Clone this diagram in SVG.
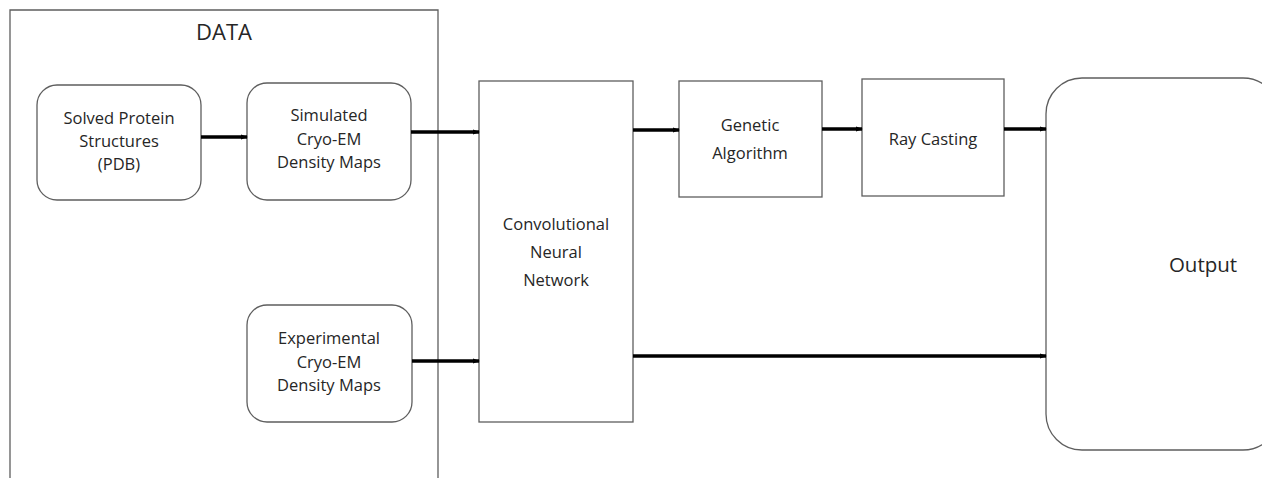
<svg xmlns="http://www.w3.org/2000/svg" width="1262" height="478" viewBox="0 0 1262 478">
<style>
.box{fill:#fff;stroke:#5e5e5e;stroke-width:1.3}
.t{font-family:"Open Sans","Liberation Sans",sans-serif;font-size:16.5px;fill:#262626;text-anchor:middle}
.c{stroke:#000;stroke-width:3.5;fill:none;marker-end:url(#ah)}
</style>
<defs>
<marker id="ah" viewBox="0 0 4 4" refX="3.5" refY="2" markerWidth="2" markerHeight="2" orient="auto" markerUnits="strokeWidth">
<path d="M0,0.6 L4,2 L0,3.4 z" fill="#000"/>
</marker>
</defs>
<rect width="1262" height="478" fill="#fff"/>
<g id="data">
<path class="box" d="M10,480 L10,10 L438,10 L438,480" fill="none"/>
<text class="t" x="224" y="40" style="font-size:22px">DATA</text>
</g>
<g id="pdb">
<rect class="box" x="37" y="85" width="164" height="115" rx="20"/>
<text class="t" x="119" y="124">Solved Protein</text>
<text class="t" x="119" y="147">Structures</text>
<text class="t" x="119" y="170">(PDB)</text>
</g>
<g id="sim">
<rect class="box" x="247" y="83" width="164" height="117" rx="20"/>
<text class="t" x="329" y="121">Simulated</text>
<text class="t" x="329" y="145">Cryo-EM</text>
<text class="t" x="329" y="168">Density Maps</text>
</g>
<g id="exp">
<rect class="box" x="247" y="305" width="165" height="117" rx="20"/>
<text class="t" x="329" y="344">Experimental</text>
<text class="t" x="329" y="368">Cryo-EM</text>
<text class="t" x="329" y="391">Density Maps</text>
</g>
<g id="cnn">
<rect class="box" x="479" y="81" width="154" height="341"/>
<text class="t" x="556" y="230">Convolutional</text>
<text class="t" x="556" y="258">Neural</text>
<text class="t" x="556" y="286">Network</text>
</g>
<g id="ga">
<rect class="box" x="679" y="81" width="143" height="116"/>
<text class="t" x="750" y="131">Genetic</text>
<text class="t" x="750" y="159">Algorithm</text>
</g>
<g id="ray">
<rect class="box" x="862" y="79" width="142" height="117"/>
<text class="t" x="933" y="145">Ray Casting</text>
</g>
<g id="out">
<rect class="box" x="1046" y="78" width="233" height="372" rx="36"/>
<text class="t" x="1203" y="272" style="font-size:20.5px">Output</text>
</g>
<g id="connectors">
<line class="c" x1="201" y1="137" x2="247" y2="137"/>
<line class="c" x1="411" y1="132" x2="479" y2="132"/>
<line class="c" x1="412" y1="361" x2="479" y2="361"/>
<line class="c" x1="633" y1="130" x2="679" y2="130"/>
<line class="c" x1="822" y1="129" x2="862" y2="129"/>
<line class="c" x1="1004" y1="129" x2="1046" y2="129"/>
<line class="c" x1="633" y1="356" x2="1046" y2="356"/>
</g>
</svg>
